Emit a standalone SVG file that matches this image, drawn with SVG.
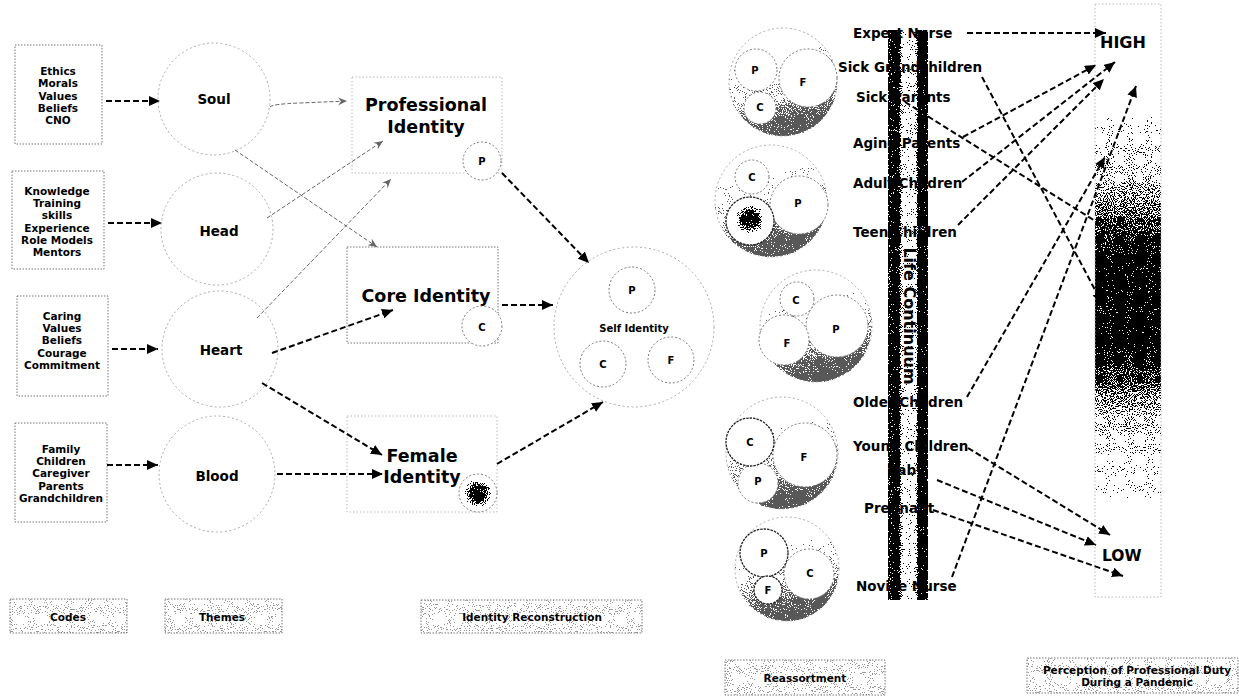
<svg xmlns="http://www.w3.org/2000/svg" width="1239" height="698" viewBox="0 0 1239 698">
  <defs>
    <style>
      .t{font-family:"DejaVu Sans",Verdana,sans-serif;font-weight:bold;fill:#000}
      .code{font-size:10.5px;text-anchor:middle}
      .theme{font-size:13.5px;text-anchor:middle}
      .ident{font-size:17.5px;text-anchor:middle}
      .sm{font-size:10px;text-anchor:middle}
      .life{font-size:13.5px}
      .lbl{font-size:10.5px;text-anchor:middle}
      .box{fill:none;stroke:#777;stroke-width:1;stroke-dasharray:1.5 1.5}
      .boxf{fill:none;stroke:#bbb;stroke-width:1;stroke-dasharray:1.5 2}
      .circ{fill:none;stroke:#aaa;stroke-width:1;stroke-dasharray:2 2.5}
      .inner{fill:#fff;stroke:#777;stroke-width:1;stroke-dasharray:2 2}
      .innerd{fill:#fff;stroke:#222;stroke-width:1.3;stroke-dasharray:2.5 1}
      .conn{fill:none;stroke:#000;stroke-width:2;stroke-dasharray:6 3;marker-end:url(#ah)}
      .conng{fill:none;stroke:#666;stroke-width:1;stroke-dasharray:4 2;marker-end:url(#ahg)}
      .tag{fill:url(#tagFill);filter:url(#grain);opacity:0.4}
      .shade{fill:url(#crescent);filter:url(#grain);opacity:0.65}
    </style>
    <marker id="ah" markerUnits="userSpaceOnUse" markerWidth="12" markerHeight="10" refX="11" refY="5" orient="auto">
      <path d="M0,0 L11,5 L0,10 z" fill="#000"/>
    </marker>
    <marker id="ahg" markerUnits="userSpaceOnUse" markerWidth="10" markerHeight="8" refX="9" refY="4" orient="auto">
      <path d="M0,0 L9,4 L0,8 L3,4 z" fill="#666"/>
    </marker>
    <!-- dithering filter: turns the alpha of the source into black speckles -->
    <filter id="grain" x="0%" y="0%" width="100%" height="100%" color-interpolation-filters="sRGB">
      <feTurbulence type="fractalNoise" baseFrequency="0.95" numOctaves="1" seed="7" result="noise"/>
      <feColorMatrix in="noise" type="matrix" values="0 0 0 0 0  0 0 0 0 0  0 0 0 0 0  2.6 0 0 0 -0.8" result="na"/>
      <feComposite in="SourceGraphic" in2="na" operator="arithmetic" k1="0" k2="1" k3="-1" k4="0.47" result="diff"/>
      <feComponentTransfer in="diff" result="th">
        <feFuncA type="discrete" tableValues="0 1"/>
      </feComponentTransfer>
      <feColorMatrix in="th" type="matrix" values="0 0 0 0 0  0 0 0 0 0  0 0 0 0 0  0 0 0 1 0"/>
    </filter>
    <linearGradient id="tagFill" x1="0" y1="0" x2="0" y2="1">
      <stop offset="0" stop-color="#000" stop-opacity="0.16"/>
      <stop offset="1" stop-color="#000" stop-opacity="0.16"/>
    </linearGradient>
    <linearGradient id="crescent" x1="0" y1="0" x2="0.25" y2="1">
      <stop offset="0" stop-color="#000" stop-opacity="0"/>
      <stop offset="0.5" stop-color="#000" stop-opacity="0.04"/>
      <stop offset="0.72" stop-color="#000" stop-opacity="0.35"/>
      <stop offset="0.92" stop-color="#000" stop-opacity="0.85"/>
      <stop offset="1" stop-color="#000" stop-opacity="0.95"/>
    </linearGradient>
    <radialGradient id="blob" cx="0.5" cy="0.5" r="0.5">
      <stop offset="0" stop-color="#000" stop-opacity="1"/>
      <stop offset="0.45" stop-color="#000" stop-opacity="0.95"/>
      <stop offset="1" stop-color="#000" stop-opacity="0"/>
    </radialGradient>
    <linearGradient id="lifeBar" x1="0" y1="0" x2="1" y2="0">
      <stop offset="0" stop-color="#000" stop-opacity="0.9"/>
      <stop offset="0.05" stop-color="#000" stop-opacity="1"/>
      <stop offset="0.26" stop-color="#000" stop-opacity="1"/>
      <stop offset="0.34" stop-color="#000" stop-opacity="0.3"/>
      <stop offset="0.42" stop-color="#000" stop-opacity="0.03"/>
      <stop offset="0.64" stop-color="#000" stop-opacity="0.03"/>
      <stop offset="0.71" stop-color="#000" stop-opacity="0.3"/>
      <stop offset="0.76" stop-color="#000" stop-opacity="1"/>
      <stop offset="1" stop-color="#000" stop-opacity="1"/>
    </linearGradient>
    <linearGradient id="dutyBar" x1="0" y1="0" x2="0" y2="1">
      <stop offset="0" stop-color="#000" stop-opacity="0"/>
      <stop offset="0.18" stop-color="#000" stop-opacity="0.01"/>
      <stop offset="0.28" stop-color="#000" stop-opacity="0.2"/>
      <stop offset="0.36" stop-color="#000" stop-opacity="0.65"/>
      <stop offset="0.43" stop-color="#000" stop-opacity="1"/>
      <stop offset="0.58" stop-color="#000" stop-opacity="1"/>
      <stop offset="0.635" stop-color="#000" stop-opacity="0.7"/>
      <stop offset="0.685" stop-color="#000" stop-opacity="0.35"/>
      <stop offset="0.77" stop-color="#000" stop-opacity="0.08"/>
      <stop offset="0.86" stop-color="#000" stop-opacity="0.01"/>
      <stop offset="1" stop-color="#000" stop-opacity="0"/>
    </linearGradient>
  </defs>

  <rect width="1239" height="698" fill="#fff"/>

  <!-- codes -->
  <g id="code-ethics">
    <rect class="box" x="15" y="45" width="87" height="99"/>
    <text class="t code"><tspan x="58" y="75">Ethics</tspan><tspan x="58" y="87">Morals</tspan><tspan x="58" y="100">Values</tspan><tspan x="58" y="112">Beliefs</tspan><tspan x="58" y="124">CNO</tspan></text>
  </g>
  <g id="code-knowledge">
    <rect class="box" x="12" y="171" width="92" height="98"/>
    <text class="t code"><tspan x="57" y="195">Knowledge</tspan><tspan x="57" y="207">Training</tspan><tspan x="57" y="219">skills</tspan><tspan x="57" y="232">Experience</tspan><tspan x="57" y="244">Role Models</tspan><tspan x="57" y="256">Mentors</tspan></text>
  </g>
  <g id="code-caring">
    <rect class="box" x="17" y="296" width="91" height="100"/>
    <text class="t code"><tspan x="62" y="320">Caring</tspan><tspan x="62" y="332">Values</tspan><tspan x="62" y="344">Beliefs</tspan><tspan x="62" y="357">Courage</tspan><tspan x="62" y="369">Commitment</tspan></text>
  </g>
  <g id="code-family">
    <rect class="box" x="15" y="423" width="92" height="99"/>
    <text class="t code"><tspan x="61" y="453">Family</tspan><tspan x="61" y="465">Children</tspan><tspan x="61" y="477">Caregiver</tspan><tspan x="61" y="490">Parents</tspan><tspan x="61" y="502">Grandchildren</tspan></text>
  </g>

  <!-- themes -->
  <g id="theme-soul"><circle class="circ" cx="214" cy="99" r="56"/><text class="t theme" x="214" y="104">Soul</text></g>
  <g id="theme-head"><circle class="circ" cx="217" cy="229" r="56"/><text class="t theme" x="219" y="236">Head</text></g>
  <g id="theme-heart"><circle class="circ" cx="220" cy="349" r="58"/><text class="t theme" x="221" y="355">Heart</text></g>
  <g id="theme-blood"><circle class="circ" cx="217" cy="474" r="58"/><text class="t theme" x="217" y="481">Blood</text></g>

  <!-- identities -->
  <g id="id-professional">
    <rect class="boxf" x="352" y="77" width="150" height="96"/>
    <text class="t ident"><tspan x="426" y="111">Professional</tspan><tspan x="426" y="133">Identity</tspan></text>
    <circle class="inner" cx="482" cy="161" r="19"/>
    <text class="t sm" x="482" y="165">P</text>
  </g>
  <g id="id-core">
    <rect class="box" x="347" y="247" width="151" height="96"/>
    <text class="t ident" x="426" y="302">Core Identity</text>
    <circle class="inner" cx="482" cy="326" r="20"/>
    <text class="t sm" x="482" y="331">C</text>
  </g>
  <g id="id-female">
    <rect class="boxf" x="347" y="416" width="150" height="96"/>
    <text class="t ident"><tspan x="422" y="462">Female</tspan><tspan x="422" y="483">Identity</tspan></text>
    <circle class="inner" cx="478" cy="493" r="19"/>
    <circle cx="478" cy="493" r="14" fill="url(#blob)" filter="url(#grain)"/>
  </g>
  <g id="id-self">
    <circle class="circ" cx="634" cy="327" r="80"/>
    <circle class="inner" cx="632" cy="290" r="23"/>
    <text class="t sm" x="632" y="294">P</text>
    <text class="t sm" x="634" y="332">Self Identity</text>
    <circle class="inner" cx="603" cy="364" r="23"/>
    <text class="t sm" x="603" y="368">C</text>
    <circle class="inner" cx="671" cy="360" r="23"/>
    <text class="t sm" x="671" y="364">F</text>
  </g>

  <!-- reassortment -->
  <g id="mix-1">
    <circle class="shade" cx="783" cy="82" r="54"/>
    <circle class="circ" cx="783" cy="82" r="54"/>
    <circle class="inner" cx="808" cy="78" r="29"/>
    <circle class="inner" cx="756" cy="70" r="21"/>
    <circle class="inner" cx="760" cy="108" r="16"/>
    <text class="t sm" x="755" y="74">P</text>
    <text class="t sm" x="803" y="86">F</text>
    <text class="t sm" x="760" y="111">C</text>
  </g>
  <g id="mix-2">
    <circle class="shade" cx="771" cy="201" r="56"/>
    <circle class="circ" cx="771" cy="201" r="56"/>
    <circle class="inner" cx="799" cy="205" r="29"/>
    <circle class="inner" cx="752" cy="177" r="17"/>
    <circle class="innerd" cx="750" cy="221" r="24"/>
    <circle cx="750" cy="219" r="15" fill="url(#blob)" filter="url(#grain)"/>
    <text class="t sm" x="752" y="181">C</text>
    <text class="t sm" x="798" y="207">P</text>
  </g>
  <g id="mix-3">
    <circle class="shade" cx="816" cy="326" r="56"/>
    <circle class="circ" cx="816" cy="326" r="56"/>
    <circle class="inner" cx="837" cy="326" r="31"/>
    <circle class="inner" cx="784" cy="340" r="25"/>
    <circle class="inner" cx="797" cy="299" r="17"/>
    <text class="t sm" x="796" y="304">C</text>
    <text class="t sm" x="787" y="347">F</text>
    <text class="t sm" x="836" y="333">P</text>
  </g>
  <g id="mix-4">
    <circle class="shade" cx="782" cy="453" r="56"/>
    <circle class="circ" cx="782" cy="453" r="56"/>
    <circle class="inner" cx="805" cy="455" r="32"/>
    <circle class="inner" cx="758" cy="483" r="20"/>
    <circle class="innerd" cx="750" cy="442" r="24"/>
    <text class="t sm" x="750" y="446">C</text>
    <text class="t sm" x="804" y="461">F</text>
    <text class="t sm" x="758" y="485">P</text>
  </g>
  <g id="mix-5">
    <circle class="shade" cx="787" cy="569" r="52"/>
    <circle class="circ" cx="787" cy="569" r="52"/>
    <circle class="inner" cx="809" cy="574" r="25"/>
    <circle class="innerd" cx="764" cy="553" r="24"/>
    <circle class="innerd" cx="768" cy="590" r="14"/>
    <text class="t sm" x="764" y="557">P</text>
    <text class="t sm" x="810" y="577">C</text>
    <text class="t sm" x="768" y="594">F</text>
  </g>

  <!-- life stages -->
  <g id="life-stages">
    <text class="t life" x="853" y="38">Expert Nurse</text>
    <text class="t life" x="838" y="72">Sick Grandchildren</text>
    <text class="t life" x="856" y="102">Sick Parents</text>
    <text class="t life" x="853" y="148">Aging Parents</text>
    <text class="t life" x="853" y="188">Adult Children</text>
    <text class="t life" x="853" y="237">Teen Children</text>
    <text class="t life" x="853" y="407">Older Children</text>
    <text class="t life" x="853" y="451">Young Children</text>
    <text class="t life" x="887" y="475">Baby</text>
    <text class="t life" x="864" y="513">Pregnant</text>
    <text class="t life" x="856" y="591">Novice Nurse</text>
  </g>
  <g id="life-continuum">
    <rect x="888" y="30" width="40" height="570" fill="url(#lifeBar)" filter="url(#grain)"/>
    <text class="t" font-size="16" text-anchor="middle" dominant-baseline="central" transform="translate(909,316) rotate(90)">Life Continuum</text>
  </g>

  <!-- perception scale -->
  <g id="duty-scale">
    <rect x="1095" y="4" width="66" height="593" fill="url(#dutyBar)" filter="url(#grain)"/>
    <rect class="boxf" x="1095" y="4" width="66" height="593"/>
    <text class="t" font-size="16" x="1100" y="48">HIGH</text>
    <text class="t" font-size="15.5" x="1102" y="561">LOW</text>
  </g>

  <!-- column captions -->
  <g id="cap-codes"><rect class="tag" x="10" y="599" width="117" height="34"/><rect class="box" x="10" y="599" width="117" height="34"/><text class="t lbl" x="68" y="621">Codes</text></g>
  <g id="cap-themes"><rect class="tag" x="165" y="599" width="117" height="34"/><rect class="box" x="165" y="599" width="117" height="34"/><text class="t lbl" x="222" y="621">Themes</text></g>
  <g id="cap-identity"><rect class="tag" x="421" y="600" width="221" height="33"/><rect class="box" x="421" y="600" width="221" height="33"/><text class="t lbl" x="532" y="621">Identity Reconstruction</text></g>
  <g id="cap-reassort"><rect class="tag" x="725" y="660" width="160" height="35"/><rect class="box" x="725" y="660" width="160" height="35"/><text class="t lbl" x="805" y="682">Reassortment</text></g>
  <g id="cap-duty"><rect class="tag" x="1027" y="658" width="211" height="35"/><rect class="box" x="1027" y="658" width="211" height="35"/><text class="t lbl"><tspan x="1137" y="674">Perception of Professional Duty</tspan><tspan x="1137" y="686">During a Pandemic</tspan></text></g>

  <!-- connectors -->
  <g id="connectors">
    <path class="conn" d="M106,101 L160,101" stroke-width="1.2" stroke-dasharray="3 1"/>
    <path class="conn" d="M108,223 L162,223"/>
    <path class="conn" d="M112,349 L158,349"/>
    <path class="conn" d="M107,465 L158,465"/>

    <path class="conng" d="M270,107 Q272,104 300,103 L347,101"/>
    <path class="conng" d="M235,150 L377,247"/>
    <path class="conng" d="M267,218 L383,141"/>
    <path class="conng" d="M257,318 L391,179"/>

    <path class="conn" d="M272,353 L393,310"/>
    <path class="conn" d="M262,383 L382,455"/>
    <path class="conn" d="M277,474 L383,474"/>
    <path class="conn" d="M502,173 L589,263"/>
    <path class="conn" d="M502,305 L553,305"/>
    <path class="conn" d="M497,464 L603,402"/>

    <path class="conn" d="M967,33 L1106,33"/>
    <path class="conn" d="M982,77 L1102,303"/>
    <path class="conn" d="M905,102 L1148,254"/>
    <path class="conn" d="M963,137 L1096,65"/>
    <path class="conn" d="M962,182 L1115,62"/>
    <path class="conn" d="M958,225 L1104,79"/>
    <path class="conn" d="M967,397 L1105,157"/>
    <path class="conn" d="M952,577 L1136,86"/>
    <path class="conn" d="M968,448 L1110,535"/>
    <path class="conn" d="M937,480 L1096,545"/>
    <path class="conn" d="M933,510 L1123,576"/>
  </g>
</svg>
